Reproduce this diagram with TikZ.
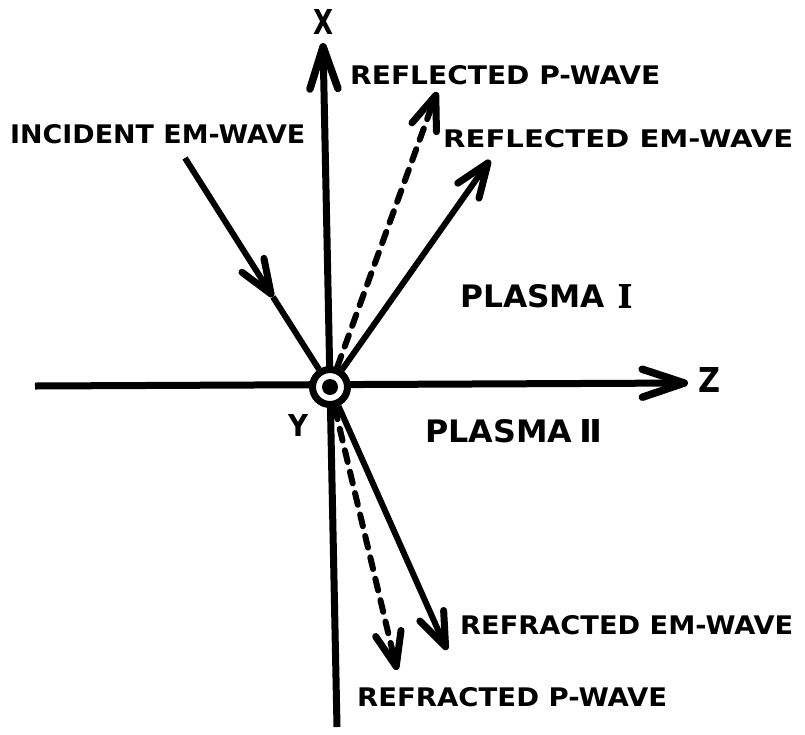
\documentclass[tikz,border=0pt]{standalone}
\usepackage{fontspec}
\setmainfont{DejaVu Sans}
\newfontfamily\numfont{Liberation Serif}[FakeBold=2.5]
\usetikzlibrary{arrows.meta}
\newcommand\lbl[3]{\resizebox{#1pt}{#2pt}{\bfseries #3}}
\begin{document}
\begin{tikzpicture}[x=1pt,y=-1pt,
  axis/.style={line width=7pt, -{Straight Barb[length=42pt,width=28pt,line width=7.5pt,round]}},
  wave/.style={line width=6pt, -{Straight Barb[length=34pt,width=26pt,line width=7pt,round]}},
  plain/.style={line width=6pt},
  dashwave/.style={wave, dash pattern=on 12pt off 10pt, line cap=round},
  lab/.style={inner sep=0pt, anchor=west},
  clab/.style={inner sep=0pt}]
\useasboundingbox (0,0) rectangle (805,734);
% coordinates
\coordinate (O) at (330,387);
\coordinate (xbot) at (337,727);
\coordinate (xtop) at (323,43);
\coordinate (zl) at (35,386);
\coordinate (zr) at (688,383);
\coordinate (incs) at (185,158);
\coordinate (incm) at (273,297);
\coordinate (remt) at (490,160);
\coordinate (rpt) at (437,92);
\coordinate (temt) at (447,650);
\coordinate (tpt) at (397,670);
% axes
\draw[axis] (xbot) -- (xtop);
\draw[axis] (zl) -- (zr);
% origin symbol
\node[circle, draw, line width=7pt, fill=white, minimum size=35pt, inner sep=0pt] (orig) at (O) {};
\fill (O) circle (8);
% waves
\draw[wave] (incs) -- (incm);
\draw[plain] (incm) -- (orig.122);
\draw[wave] (orig.55) -- (remt);
\draw[dashwave] (orig.70) -- (rpt);
\draw[wave] (orig.-66) -- (temt);
\draw[dashwave] (orig.-77) -- (tpt);
% labels
\node[clab] (lx) at (323,22) {\lbl{20}{25}{X}};
\node[clab] (lz) at (709,380) {\lbl{22}{25}{Z}};
\node[clab] (ly) at (298,425) {\lbl{20}{22}{Y}};
\node[lab] (linc) at (10,134) {\lbl{295}{19}{INCIDENT EM-WAVE}};
\node[lab] (lrp) at (350,75) {\lbl{310}{19}{REFLECTED P-WAVE}};
\node[lab] (lrem) at (443,139) {\lbl{350}{18}{REFLECTED EM-WAVE}};
\node[lab] (ltem) at (460,625) {\lbl{333}{19}{REFRACTED EM-WAVE}};
\node[lab] (ltp) at (357,697) {\lbl{310}{19}{REFRACTED P-WAVE}};
\node[lab] (lp1) at (460,296) {\lbl{145}{23}{PLASMA}};
\node[clab] (lp1n) at (625,296) {\lbl{14}{23}{\numfont I}};
\node[lab] (lp2) at (425,431) {\lbl{147}{23}{PLASMA}};
\node[clab] (lp2n) at (591,431) {\lbl{23}{23}{Ⅱ}};
\end{tikzpicture}
\end{document}
